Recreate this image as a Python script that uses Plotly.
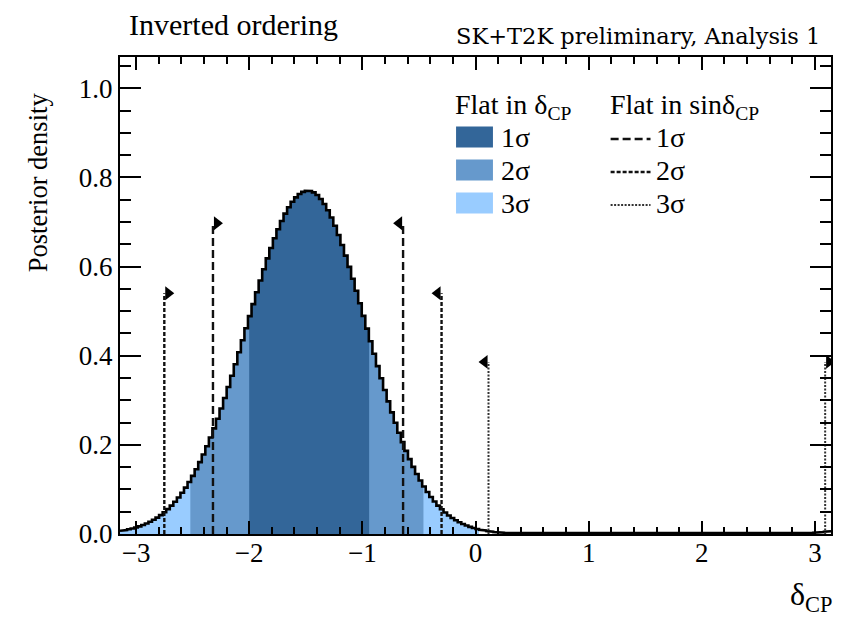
import numpy as np
import plotly.graph_objects as go

# ---------------- data ----------------
x_min, x_max = -np.pi, np.pi
n_bins = 200
posterior = [
    0.0074, 0.0088, 0.0105, 0.0124, 0.0146, 0.0172, 0.0202, 0.0236, 0.0274, 0.0318,
    0.0368, 0.0424, 0.0487, 0.0557, 0.0636, 0.0723, 0.0819, 0.0925, 0.1040, 0.1167,
    0.1304, 0.1454, 0.1613, 0.1785, 0.1968, 0.2163, 0.2369, 0.2586, 0.2814, 0.3051,
    0.3296, 0.3550, 0.3809, 0.4076, 0.4345, 0.4616, 0.4887, 0.5157, 0.5424, 0.5686,
    0.5938, 0.6182, 0.6414, 0.6633, 0.6835, 0.7021, 0.7186, 0.7330, 0.7453, 0.7552,
    0.7626, 0.7675, 0.7698, 0.7695, 0.7663, 0.7603, 0.7515, 0.7401, 0.7262, 0.7099,
    0.6913, 0.6708, 0.6484, 0.6245, 0.5991, 0.5727, 0.5455, 0.5176, 0.4893, 0.4608,
    0.4324, 0.4042, 0.3765, 0.3493, 0.3229, 0.2975, 0.2729, 0.2495, 0.2272, 0.2062,
    0.1864, 0.1679, 0.1506, 0.1347, 0.1199, 0.1064, 0.0941, 0.0829, 0.0728, 0.0636,
    0.0554, 0.0481, 0.0416, 0.0358, 0.0307, 0.0263, 0.0224, 0.0190, 0.0160, 0.0135,
    0.0113, 0.0095, 0.0079, 0.0066, 0.0054, 0.0045, 0.0037, 0.0030, 0.0024, 0.0020,
    0.0016, 0.0014, 0.0012, 0.0011, 0.0010, 0.0010, 0.0010, 0.0010, 0.0010, 0.0010,
    0.0010, 0.0010, 0.0010, 0.0010, 0.0010, 0.0010, 0.0010, 0.0010, 0.0010, 0.0010,
    0.0010, 0.0010, 0.0010, 0.0010, 0.0010, 0.0010, 0.0010, 0.0010, 0.0010, 0.0010,
    0.0010, 0.0010, 0.0010, 0.0010, 0.0010, 0.0010, 0.0010, 0.0010, 0.0010, 0.0010,
    0.0010, 0.0010, 0.0010, 0.0010, 0.0010, 0.0010, 0.0010, 0.0010, 0.0010, 0.0010,
    0.0010, 0.0010, 0.0010, 0.0010, 0.0010, 0.0010, 0.0010, 0.0010, 0.0010, 0.0010,
    0.0010, 0.0010, 0.0010, 0.0010, 0.0010, 0.0010, 0.0010, 0.0010, 0.0010, 0.0010,
    0.0010, 0.0010, 0.0010, 0.0010, 0.0010, 0.0010, 0.0010, 0.0010, 0.0010, 0.0010,
    0.0011, 0.0013, 0.0016, 0.0020, 0.0024, 0.0029, 0.0035, 0.0043, 0.0052, 0.0062,
]

# credible intervals, flat prior in delta_CP (filled regions)
sigma_levels = ["1σ", "2σ", "3σ"]
flat_lo = [-2.00, -2.52, -np.pi]
flat_hi = [-0.94, -0.46, 0.03]

# credible intervals, flat prior in sin(delta_CP) (vertical lines)
sin_lo = [-2.32, -2.75, 3.09]
sin_hi = [-0.64, -0.30, 0.115]
sin_height = [0.697, 0.540, 0.386]

x_ticks = [-3, -2, -1, 0, 1, 2, 3]
y_ticks = [0.0, 0.2, 0.4, 0.6, 0.8, 1.0]

# ---------------- styles ----------------
FONT = "Liberation Serif"
fill_colors = ["#336699", "#6699CC", "#99CCFF"]
sin_dash = ["8px,4px", "4px,2px", "2px,1.5px"]
sin_width = [2.4, 2.4, 2.0]
sin_color = ["#111111", "#111111", "#333333"]
arrow_dx = 0.035

edges = np.linspace(x_min, x_max, n_bins + 1)


def step_path(a, b):
    xs, ys = [], []
    for lo, hi, v in zip(edges[:-1], edges[1:], posterior):
        if hi <= a or lo >= b:
            continue
        xs += [max(lo, a), min(hi, b)]
        ys += [v, v]
    return xs, ys


fig = go.Figure()

# filled regions: 3σ first, then 2σ, then 1σ on top
for k in [2, 1, 0]:
    xs, ys = step_path(flat_lo[k], flat_hi[k])
    fig.add_trace(go.Scatter(x=xs, y=ys, mode="lines", fill="tozeroy",
                             fillcolor=fill_colors[k], line=dict(width=0),
                             hoverinfo="skip", showlegend=False))

# histogram outline
xs, ys = step_path(x_min, x_max)
fig.add_trace(go.Scatter(x=xs, y=ys, mode="lines",
                         line=dict(color="black", width=2.6),
                         showlegend=False))

# sin(delta) interval boundaries
for k in range(3):
    for xb, sym, d in [(sin_lo[k], "triangle-right", 1), (sin_hi[k], "triangle-left", -1)]:
        fig.add_trace(go.Scatter(x=[xb, xb], y=[0, sin_height[k]], mode="lines",
                                 line=dict(color=sin_color[k], width=sin_width[k], dash=sin_dash[k]),
                                 showlegend=False))
        fig.add_trace(go.Scatter(x=[xb + d * arrow_dx], y=[sin_height[k]], mode="markers",
                                 marker=dict(symbol=sym, size=12, color="black"),
                                 showlegend=False))

# ---------------- layout ----------------
PAGE = 8                      # default page margin of the html body
W, H = 842 - PAGE, 618 - PAGE
L, R, T, B = 112, 9, 49, 84
pw, ph = W - L - R, H - T - B


def px(xp):                   # screen pixel -> paper fraction
    return (xp - PAGE - L) / pw


def py(yp):
    return (H - B - (yp - PAGE)) / ph


annotations = [
    dict(text="Inverted ordering", x=px(127), y=py(25), xanchor="left", yanchor="middle",
         font=dict(family=FONT, size=30, color="black")),
    dict(text="SK+T2K preliminary, Analysis 1", x=px(824), y=py(36), xanchor="right",
         yanchor="middle", font=dict(family="DejaVu Serif", size=22.5, color="black")),
    dict(text="Posterior density", x=px(38), y=py(182), textangle=-90, xanchor="center",
         yanchor="middle", font=dict(family=FONT, size=26.5, color="black")),
    dict(text="δ<sub>CP</sub>", x=px(836), y=py(596), xanchor="right", yanchor="middle",
         font=dict(family=FONT, size=32, color="black")),
    dict(text="Flat in δ<sub>CP</sub>", x=px(454), y=py(106), xanchor="left", yanchor="middle",
         font=dict(family=FONT, size=28, color="black")),
    dict(text="Flat in sinδ<sub>CP</sub>", x=px(609), y=py(106), xanchor="left", yanchor="middle",
         font=dict(family=FONT, size=28, color="black")),
]
shapes = []
row_y = [137, 170, 203]
for k in range(3):
    shapes.append(dict(type="rect", xref="paper", yref="paper",
                       x0=px(457), x1=px(494), y0=py(row_y[k] + 10.5), y1=py(row_y[k] - 10.5),
                       fillcolor=fill_colors[k], line=dict(width=0)))
    annotations.append(dict(text=sigma_levels[k], x=px(500), y=py(row_y[k]), xanchor="left",
                            yanchor="middle", font=dict(family=FONT, size=28, color="black")))
    shapes.append(dict(type="line", xref="paper", yref="paper",
                       x0=px(612), x1=px(652), y0=py(row_y[k] + 2), y1=py(row_y[k] + 2),
                       line=dict(color=sin_color[k], width=sin_width[k], dash=sin_dash[k])))
    annotations.append(dict(text=sigma_levels[k], x=px(656), y=py(row_y[k]), xanchor="left",
                            yanchor="middle", font=dict(family=FONT, size=28, color="black")))
for a in annotations:
    a.update(xref="paper", yref="paper", showarrow=False)

axis_common = dict(showgrid=False, zeroline=False, showline=True, linecolor="black",
                   linewidth=2, mirror="ticks", ticks="inside", tickcolor="black",
                   tickwidth=1.5, tickfont=dict(family=FONT, size=27, color="black"))

fig.update_layout(
    width=W, height=H, margin=dict(l=L, r=R, t=T, b=B),
    paper_bgcolor="white", plot_bgcolor="white",
    xaxis=dict(range=[x_min, x_max], tickvals=x_ticks, ticklen=13, ticklabelstandoff=-6,
               minor=dict(ticks="inside", dtick=0.2, tick0=0, ticklen=7,
                          tickcolor="black", tickwidth=1.5),
               **axis_common),
    yaxis=dict(range=[0, 1.07], tickvals=y_ticks, tickformat=".1f", ticklen=21,
               minor=dict(ticks="inside", dtick=0.05, tick0=0, ticklen=11,
                          tickcolor="black", tickwidth=1.5),
               **axis_common),
    annotations=annotations, shapes=shapes, showlegend=False,
)

fig.write_html("out.html")
